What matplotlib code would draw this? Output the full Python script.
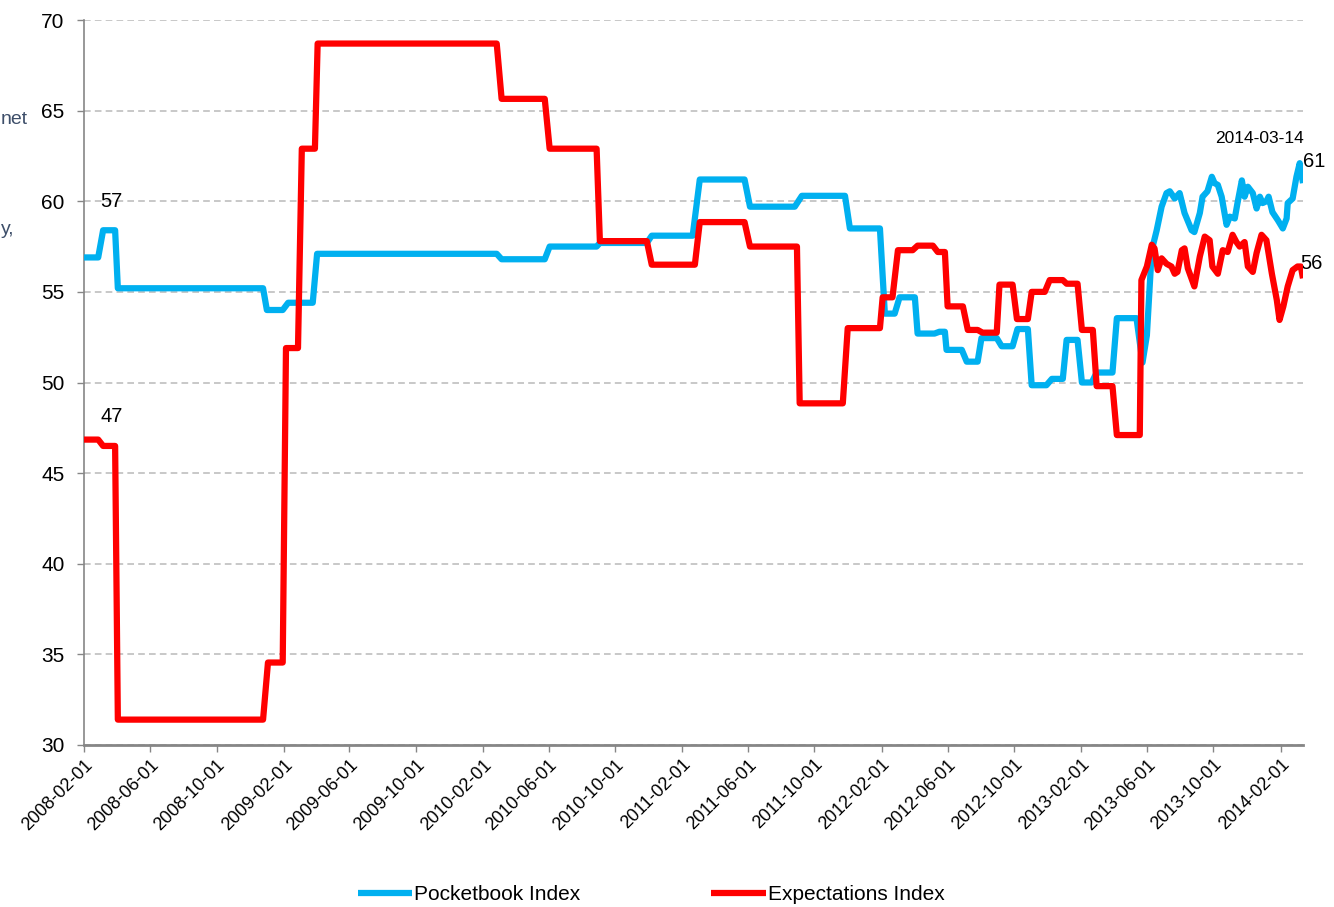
"""
Pocketbook vs Expectations index, Feb 2008 - Mar 2014.
"""

import matplotlib
matplotlib.use("Agg")
import matplotlib.pyplot as plt
import matplotlib.dates as mdates
import pandas as pd

# ── Palette ──
BLUE       = "#00B0F0"
RED        = "#FF0000"
GRID_COLOR = "#BFBFBF"
AXIS_COLOR = "#868686"
TEXT_DARK  = "#000000"
NOTE_COLOR = "#3E4F6A"

plt.rcParams["font.family"] = ["Liberation Sans", "DejaVu Sans"]

# ── Data ──
pocketbook_dates = [
    "2008-02-01", "2008-02-27", "2008-03-07", "2008-03-29", "2008-04-03", "2008-12-25",
    "2009-01-01", "2009-01-30", "2009-02-09", "2009-03-26", "2009-04-03", "2010-02-26",
    "2010-03-07", "2010-05-25", "2010-06-03", "2010-08-28", "2010-09-03", "2010-11-28",
    "2010-12-07", "2011-02-20", "2011-03-05", "2011-05-26", "2011-06-05", "2011-08-26",
    "2011-09-08", "2011-11-26", "2011-12-05", "2012-01-29", "2012-02-07", "2012-02-25",
    "2012-03-05", "2012-04-02", "2012-04-07", "2012-05-08", "2012-05-17", "2012-05-27",
    "2012-05-30", "2012-06-27", "2012-07-06", "2012-07-26", "2012-08-02", "2012-08-30",
    "2012-09-08", "2012-09-28", "2012-10-07", "2012-10-26", "2012-11-02", "2012-11-29",
    "2012-12-09", "2012-12-29", "2013-01-05", "2013-01-25", "2013-02-02", "2013-02-20",
    "2013-03-01", "2013-03-30", "2013-04-07", "2013-05-13", "2013-05-24", "2013-06-01",
    "2013-06-10", "2013-06-19", "2013-06-28", "2013-07-07", "2013-07-13", "2013-07-22",
    "2013-07-31", "2013-08-09", "2013-08-22", "2013-08-27", "2013-09-06", "2013-09-11",
    "2013-09-20", "2013-09-28", "2013-10-03", "2013-10-09", "2013-10-16", "2013-10-25",
    "2013-10-31", "2013-11-09", "2013-11-14", "2013-11-22", "2013-11-27", "2013-12-03",
    "2013-12-12", "2013-12-19", "2013-12-25", "2013-12-30", "2014-01-06", "2014-01-10",
    "2014-01-17", "2014-01-27", "2014-02-05", "2014-02-12", "2014-02-14", "2014-02-23",
    "2014-03-02", "2014-03-08", "2014-03-14",
]
pocketbook_values = [
    56.9, 56.9, 58.4, 58.4, 55.2, 55.2,
    54.0, 54.0, 54.4, 54.4, 57.1, 57.1,
    56.8, 56.8, 57.5, 57.5, 57.7, 57.7,
    58.1, 58.1, 61.2, 61.2, 59.7, 59.7,
    60.3, 60.3, 58.5, 58.5, 53.8, 53.8,
    54.7, 54.7, 52.7, 52.7, 52.8, 52.8,
    51.8, 51.8, 51.15, 51.15, 52.45, 52.45,
    52.0, 52.0, 52.95, 52.95, 49.85, 49.85,
    50.2, 50.2, 52.35, 52.35, 50.0, 50.0,
    50.55, 50.55, 53.55, 53.55, 51.1, 52.6,
    57.3, 58.4, 59.7, 60.45, 60.55, 60.15,
    60.45, 59.35, 58.4, 58.3, 59.35, 60.25,
    60.55, 61.35, 61.0, 60.9, 60.25, 58.7,
    59.15, 59.05, 59.9, 61.15, 60.25, 60.8,
    60.45, 59.6, 60.25, 59.9, 60.0, 60.25,
    59.4, 58.95, 58.5, 59.05, 59.9, 60.15,
    61.35, 62.1, 61.0,
]

expectations_dates = [
    "2008-02-01", "2008-02-27", "2008-03-07", "2008-03-29", "2008-04-03", "2008-12-25",
    "2009-01-03", "2009-01-30", "2009-02-05", "2009-02-27", "2009-03-06", "2009-03-30",
    "2009-04-04", "2010-02-26", "2010-03-07", "2010-05-25", "2010-06-03", "2010-08-28",
    "2010-09-03", "2010-11-28", "2010-12-07", "2011-02-24", "2011-03-05", "2011-05-26",
    "2011-06-05", "2011-08-30", "2011-09-04", "2011-11-22", "2011-12-01", "2012-01-29",
    "2012-02-03", "2012-02-21", "2012-03-02", "2012-03-29", "2012-04-07", "2012-05-05",
    "2012-05-14", "2012-05-27", "2012-06-01", "2012-06-29", "2012-07-08", "2012-07-26",
    "2012-08-04", "2012-08-30", "2012-09-04", "2012-09-28", "2012-10-06", "2012-10-26",
    "2012-11-02", "2012-11-26", "2012-12-05", "2012-12-29", "2013-01-05", "2013-01-25",
    "2013-02-02", "2013-02-22", "2013-03-01", "2013-03-30", "2013-04-07", "2013-05-19",
    "2013-05-22", "2013-06-01", "2013-06-10", "2013-06-15", "2013-06-21", "2013-06-28",
    "2013-07-07", "2013-07-16", "2013-07-22", "2013-07-27", "2013-08-04", "2013-08-09",
    "2013-08-15", "2013-08-27", "2013-09-06", "2013-09-15", "2013-09-24", "2013-09-29",
    "2013-10-09", "2013-10-18", "2013-10-27", "2013-11-05", "2013-11-12", "2013-11-18",
    "2013-11-27", "2013-12-03", "2013-12-12", "2013-12-19", "2013-12-28", "2014-01-06",
    "2014-01-16", "2014-01-25", "2014-01-30", "2014-02-06", "2014-02-14", "2014-02-23",
    "2014-03-04", "2014-03-10", "2014-03-14",
]
expectations_values = [
    46.85, 46.85, 46.5, 46.5, 31.4, 31.4,
    34.55, 34.55, 51.9, 51.9, 62.9, 62.9,
    68.7, 68.7, 65.65, 65.65, 62.9, 62.9,
    57.8, 57.8, 56.5, 56.5, 58.85, 58.85,
    57.5, 57.5, 48.85, 48.85, 53.0, 53.0,
    54.7, 54.7, 57.3, 57.3, 57.55, 57.55,
    57.2, 57.2, 54.2, 54.2, 52.9, 52.9,
    52.75, 52.75, 55.4, 55.4, 53.5, 53.5,
    55.0, 55.0, 55.65, 55.65, 55.45, 55.45,
    52.9, 52.9, 49.8, 49.8, 47.1, 47.1,
    55.65, 56.4, 57.6, 57.4, 56.2, 56.85,
    56.55, 56.4, 56.0, 56.1, 57.3, 57.4,
    56.3, 55.3, 56.95, 58.05, 57.85, 56.4,
    56.0, 57.3, 57.2, 58.15, 57.75, 57.5,
    57.75, 56.4, 56.1, 57.15, 58.15, 57.85,
    56.0, 54.55, 53.45, 54.2, 55.3, 56.2,
    56.4, 56.4, 55.75,
]

tick_dates = pd.date_range("2008-02-01", "2014-02-01", freq="4MS")
x_start, x_end = "2008-02-01", "2014-03-14"
y_ticks = [30, 35, 40, 45, 50, 55, 60, 65, 70]

# ── Plot ──
fig = plt.figure(figsize=(13.34, 9.07), dpi=100)
ax = fig.add_axes([84 / 1334, 1 - 745 / 907, (1303 - 84) / 1334, (745 - 20) / 907])

pb_x = pd.to_datetime(pocketbook_dates)
ex_x = pd.to_datetime(expectations_dates)

ax.plot(pb_x, pocketbook_values, color=BLUE, lw=4.5, label="Pocketbook Index",
        solid_joinstyle="round", solid_capstyle="butt", zorder=3)
ax.plot(ex_x, expectations_values, color=RED, lw=4.5, label="Expectations Index",
        solid_joinstyle="round", solid_capstyle="butt", zorder=4)

ax.set_xlim(pd.Timestamp(x_start), pd.Timestamp(x_end))
ax.set_ylim(30, 70)
ax.set_yticks(y_ticks)
ax.set_xticks(tick_dates)
ax.xaxis.set_major_formatter(mdates.DateFormatter("%Y-%m-%d"))
plt.setp(ax.get_xticklabels(), rotation=45, ha="right", rotation_mode="anchor")

ax.tick_params(axis="x", length=5, width=1, color=AXIS_COLOR, labelsize=13,
               pad=3, labelcolor=TEXT_DARK)
ax.tick_params(axis="y", length=5, width=1, color=AXIS_COLOR, labelsize=15,
               pad=9, labelcolor=TEXT_DARK)

ax.grid(axis="y", color=GRID_COLOR, linestyle=(0, (4, 2.5)), linewidth=1.2, zorder=0)
ax.set_axisbelow(True)

for spine in ["top", "right"]:
    ax.spines[spine].set_visible(False)
ax.spines["left"].set_color(AXIS_COLOR)
ax.spines["left"].set_linewidth(1.2)
ax.spines["bottom"].set_color(AXIS_COLOR)
ax.spines["bottom"].set_linewidth(2)

# point labels
ax.annotate("57", (pb_x[2], pocketbook_values[2]), xytext=(6, 14),
            textcoords="offset points", ha="center", va="bottom", fontsize=14.5)
ax.annotate("47", (ex_x[2], expectations_values[2]), xytext=(6, 14),
            textcoords="offset points", ha="center", va="bottom", fontsize=14.5)
ax.annotate("61", (pb_x[-1], pocketbook_values[-1]), xytext=(0, 9),
            textcoords="offset points", ha="left", va="bottom", fontsize=14.5,
            annotation_clip=False)
ax.annotate("56", (ex_x[-1], expectations_values[-1]), xytext=(-2, 4),
            textcoords="offset points", ha="left", va="bottom", fontsize=14.5,
            annotation_clip=False)
ax.annotate(x_end, (pb_x[-1], pocketbook_values[-1]), xytext=(-31, 27),
            textcoords="offset points", ha="center", va="bottom", fontsize=12.5,
            annotation_clip=False)

# cut-off notes at the left edge
fig.text(1 / 1334, 1 - 120 / 907, "net", ha="left", va="center",
         fontsize=14, color=NOTE_COLOR)
fig.text(1 / 1334, 1 - 229 / 907, "y,", ha="left", va="center",
         fontsize=14, color=NOTE_COLOR)

fig.legend(loc="center", bbox_to_anchor=(651 / 1334, 1 - 895 / 907), ncol=2,
           frameon=False, fontsize=15, handlelength=2.6, handletextpad=0.1,
           columnspacing=6.3)

fig.savefig("out.png", dpi=100, facecolor="white")
